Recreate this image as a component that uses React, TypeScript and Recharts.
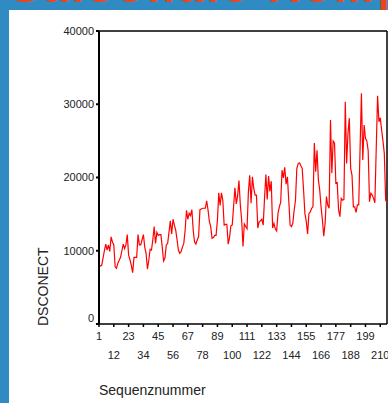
import React from "react";
import { LineChart, Line, XAxis, YAxis, ReferenceLine } from "recharts";

const values: number[] = [
  8000, 7900, 8000, 9000, 10000, 10900, 10100, 10800, 9900, 11900,
  11200, 10800, 7800, 7600, 8300, 8700, 9100, 10000, 10900, 10300,
  10800, 12200, 9400, 8800, 8000, 7000, 9100, 9100, 9100, 12200,
  10800, 10800, 11500, 12200, 10500, 9600, 7500, 8700, 10200, 10100,
  11500, 13300, 11000, 12500, 12100, 12200, 12200, 10500, 8600, 9000,
  10800, 11000, 12500, 14100, 12300, 14300, 13500, 12800, 11500, 10100,
  9650, 9870, 10500, 11000, 12800, 15500, 14300, 15100, 14800, 15600,
  12800, 11200, 10900, 11500, 11900, 15600, 15700, 15800, 15800, 15800,
  16800, 15600, 14000, 13300, 11700, 11800, 12100, 12100, 14200, 17900,
  16200, 17900, 16900, 13500, 13600, 13600, 10900, 11800, 13400, 13500,
  16000, 18600, 16400, 17500, 19600, 16300, 14200, 10600, 13650, 13300,
  13000, 18000, 20300, 16500, 20100, 18500, 17600, 17600, 13100, 13950,
  14100, 14300, 13500, 17150, 20400, 17000, 20200, 18100, 19500, 13100,
  13750, 13000, 12700, 15100, 16000, 16600, 21000, 19950, 21400, 19100,
  20100, 16900, 13500, 13300, 13750, 15500, 16900, 21250, 21900, 22000,
  21600, 21250, 18300, 15100, 14000, 12300, 15100, 15300, 15800, 16000,
  24700, 20800, 23700, 19700, 18300, 16000, 14200, 12000, 13750, 17400,
  16200, 15800, 27850, 20600, 25000, 24700, 19200, 19300, 15600, 14650,
  17150, 16900, 17000, 30350, 21900, 26000, 28100, 21250, 20300, 16000,
  16000, 15250, 16250, 16250, 24000, 31500, 22400, 27150, 25300, 25000,
  23700, 16700, 17850, 17600, 17150, 16550, 24000, 31150, 27600, 28150,
  26500, 25000, 23300, 16900, 16550,
];

const seqNumbers: number[] = values.map((_, i) => i + 1);
const xTicks: number[] = [1, 12, 23, 34, 45, 56, 67, 78, 89, 100, 111, 122, 133, 144, 155, 166, 177, 188, 199, 210];
const yTicks: number[] = [0, 10000, 20000, 30000, 40000];
const yLabel = "DSCONECT";
const xLabel = "Sequenznummer";

const data = seqNumbers.map((s, i) => ({ seq: s, v: values[i] }));

const FONT = "'Liberation Sans', Arial, sans-serif";

const XTick = (props: any) => {
  const { x, y, payload, index } = props;
  const off = index % 2 === 0 ? 9 : 28;
  return (
    <text x={x} y={y + off} dy="0.35em" textAnchor="middle" fontSize={11} fontFamily={FONT} fill="#222">
      {payload.value}
    </text>
  );
};

const YTick = (props: any) => {
  const { x, y, payload } = props;
  const off = payload.value === 0 ? -6 : 0;
  return (
    <text x={x} y={y + off} dy="0.35em" textAnchor="end" fontSize={11} fontFamily={FONT} fill="#222">
      {payload.value}
    </text>
  );
};

export default function App() {
  return (
    <div style={{ position: "absolute", left: 0, top: 0, width: 388, height: 403, background: "#2f8bc1", overflow: "hidden" }}>
      <div
        style={{
          position: "absolute",
          left: 10,
          top: -38,
          fontFamily: FONT,
          fontWeight: "bold",
          fontSize: 44,
          color: "#e8461e",
          whiteSpace: "nowrap",
          letterSpacing: 4,
        }}
      >
        Saisonale Komponente
      </div>
      <div style={{ position: "absolute", left: 9, top: 10, width: 379, height: 393, background: "#fff" }} />
      <div style={{ position: "absolute", left: 0, top: 0 }}>
        <LineChart width={388} height={403} data={data} margin={{ top: 31, right: 1, bottom: 19, left: 0 }}>
          <XAxis
            dataKey="seq"
            type="number"
            domain={[1, 215]}
            ticks={xTicks}
            interval={0}
            tick={<XTick />}
            tickSize={3}
            tickMargin={0}
            height={60}
            axisLine={{ stroke: "#000", strokeWidth: 1.5 }}
            tickLine={{ stroke: "#000", strokeWidth: 1.5 }}
          />
          <YAxis
            type="number"
            domain={[0, 40000]}
            ticks={yTicks}
            interval={0}
            width={99}
            tick={<YTick />}
            tickSize={3}
            tickMargin={2}
            axisLine={{ stroke: "#000", strokeWidth: 2 }}
            tickLine={{ stroke: "#000", strokeWidth: 2 }}
          />
          <ReferenceLine y={40000} stroke="#000" strokeWidth={1.5} />
          <ReferenceLine x={215} stroke="#000" strokeWidth={1.5} />
          <Line
            dataKey="v"
            stroke="#ff0000"
            strokeWidth={1.2}
            dot={false}
            isAnimationActive={false}
          />
        </LineChart>
      </div>
      <div
        style={{
          position: "absolute",
          left: 36,
          top: 326,
          transform: "rotate(-90deg)",
          transformOrigin: "0 0",
          fontFamily: FONT,
          fontSize: 14,
          color: "#222",
          whiteSpace: "nowrap",
          lineHeight: "14px",
        }}
      >
        {yLabel}
      </div>
      <div
        style={{
          position: "absolute",
          left: 99,
          top: 382,
          fontFamily: FONT,
          fontSize: 14,
          color: "#222",
          whiteSpace: "nowrap",
          lineHeight: "16px",
        }}
      >
        {xLabel}
      </div>
    </div>
  );
}
